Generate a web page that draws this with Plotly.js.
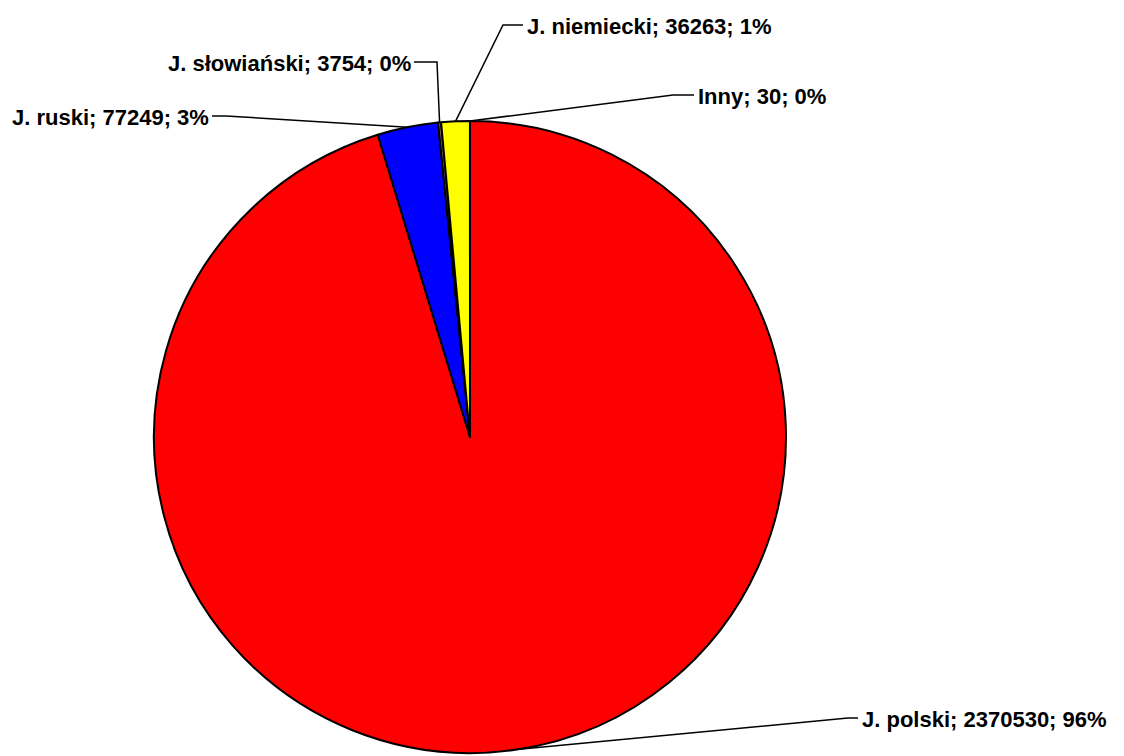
<!DOCTYPE html>
<html>
<head>
<meta charset="utf-8">
<script src="https://cdn.plot.ly/plotly-3.0.1.min.js"></script>
<style>html,body{margin:0;padding:0;background:#fff;}#chart{width:1124px;height:756px;}</style>
</head>
<body>
<div id="chart"></div>
<script>
const categories = ["J. polski", "J. ruski", "J. słowiański", "J. niemiecki", "Inny"];
const values = [2370530, 77249, 3754, 36263, 30];
const percentLabels = ["96%", "3%", "0%", "1%", "0%"];
const colors = ["#FF0000", "#0000FF", "#996666", "#FFFF00", "#FFFFFF"];

const W = 1124, H = 756;
const cx = 470, cy = 437, R = 316;

// label placement (pixels): text anchor point, elbow point, side
const labelLayout = [
  {tx: 858, ty: 718, ex: 848, ey: 718, side: "left"},
  {tx: 212, ty: 116, ex: 226, ey: 116, side: "right"},
  {tx: 414, ty: 62,  ex: 437, ey: 62,  side: "right"},
  {tx: 523, ty: 25,  ex: 503, ey: 25,  side: "left"},
  {tx: 694, ty: 95,  ex: 673, ey: 95,  side: "left"}
];

const total = values.reduce((a, b) => a + b, 0);
let cum = 0;
const annotations = [];
const shapes = [];
const px = x => x / W;
const py = y => 1 - y / H;
values.forEach((v, i) => {
  const mid = (cum + v / 2) / total;
  cum += v;
  const th = 2 * Math.PI * mid;
  const ax = cx + R * Math.sin(th);
  const ay = cy - R * Math.cos(th);
  const L = labelLayout[i];
  shapes.push({
    type: "path", xref: "paper", yref: "paper",
    path: `M ${px(L.tx)} ${py(L.ty)} L ${px(L.ex)} ${py(L.ey)} L ${px(ax)} ${py(ay)}`,
    line: {color: "#000", width: 1.5}
  });
  annotations.push({
    xref: "paper", yref: "paper",
    x: px(L.side === "left" ? L.tx + 2 : L.tx - 1), y: py(L.ty + 1),
    xanchor: L.side === "left" ? "left" : "right", yanchor: "middle",
    text: `${categories[i]}; ${v}; ${percentLabels[i]}`,
    showarrow: false,
    font: {family: "Liberation Sans, Arial, sans-serif", size: 22, color: "#000", weight: "bold"}
  });
});

const trace = {
  type: "pie",
  labels: categories,
  values: values,
  sort: false,
  direction: "clockwise",
  rotation: 0,
  textinfo: "none",
  hoverinfo: "none",
  showlegend: false,
  marker: {colors: colors, line: {color: "#000", width: 2}},
  domain: {x: [(cx - R) / W, (cx + R) / W], y: [1 - (cy + R) / H, 1 - (cy - R) / H]}
};

const layout = {
  width: W, height: H,
  margin: {l: 0, r: 0, t: 0, b: 0},
  paper_bgcolor: "#fff",
  plot_bgcolor: "#fff",
  showlegend: false,
  annotations: annotations,
  shapes: shapes
};

Plotly.newPlot("chart", [trace], layout, {displayModeBar: false, staticPlot: true});
</script>
</body>
</html>
